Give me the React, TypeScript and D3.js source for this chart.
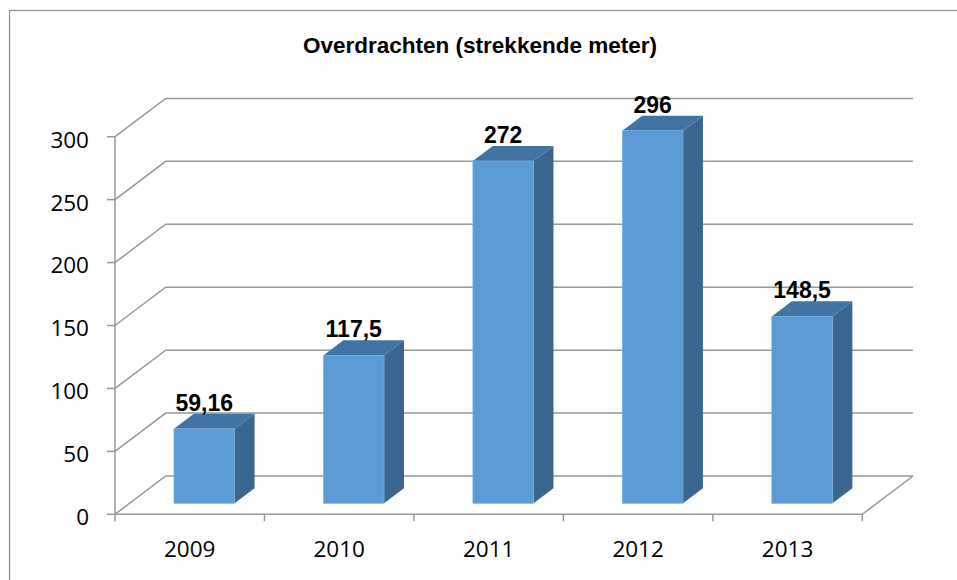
import * as d3 from 'd3';
import { useEffect, useRef } from 'react';

const years = ['2009', '2010', '2011', '2012', '2013'];
const values = [59.16, 117.5, 272, 296, 148.5];
const valueLabels = ['59,16', '117,5', '272', '296', '148,5'];
const yTicks = [0, 50, 100, 150, 200, 250, 300];
const title = 'Overdrachten (strekkende meter)';

const App = () => {
  const svgRef = useRef<SVGSVGElement>(null);

  useEffect(() => {
    const width = 957;
    const height = 580;
    const left = 115;
    const right = 862.3;
    const depthX = 50.7;
    const depthY = -38.3;
    const gridColor = '#979797';

    const svg = d3.select(svgRef.current);
    svg.selectAll('*').remove();
    svg.attr('width', width).attr('height', height);

    // chart border (runs off the right and bottom edges)
    svg.append('rect')
      .attr('x', 9.5).attr('y', 10.5)
      .attr('width', 960).attr('height', 600)
      .attr('fill', '#fff')
      .attr('stroke', '#8c8c8c')
      .attr('stroke-width', 1.2);

    const yScale = d3.scaleLinear([0, 300], [514.3, 136.7]);
    const xCat = d3.scaleBand(years, [left, right]).padding(0);
    const xBar = d3.scaleBand(years, [left, right]).paddingInner(0.594).paddingOuter(0.297);

    // back wall + side wall gridlines
    const grid = svg.append('g')
      .attr('fill', 'none')
      .attr('stroke', gridColor)
      .attr('stroke-width', 1.5);
    yTicks.forEach((t) => {
      const y = yScale(t);
      grid.append('path')
        .attr('d', `M ${left} ${y} L ${left + depthX} ${y + depthY} H ${right + depthX}`);
    });
    // floor
    grid.append('path')
      .attr('d', `M ${left} ${yScale(0)} H ${right} L ${right + depthX} ${yScale(0) + depthY}`);
    // y axis line
    grid.append('path')
      .attr('d', `M ${left} ${yScale(0)} V ${yScale(300)}`);

    // ticks
    yTicks.forEach((t) => {
      grid.append('path').attr('d', `M ${left - 8} ${yScale(t)} H ${left}`);
    });
    d3.range(years.length + 1).forEach((i) => {
      const x = left + i * xCat.step();
      grid.append('path').attr('d', `M ${x} ${yScale(0)} V ${yScale(0) + 7}`);
    });

    // y tick labels
    svg.append('g')
      .selectAll('text')
      .data(yTicks)
      .join('text')
      .attr('x', 89)
      .attr('y', (d) => yScale(d) + 3)
      .attr('dy', '0.35em')
      .attr('text-anchor', 'end')
      .attr('font-family', 'Open Sans')
      .attr('font-size', 22.5)
      .attr('fill', '#000')
      .text((d) => d);

    // category labels
    svg.append('g')
      .selectAll('text')
      .data(years)
      .join('text')
      .attr('x', (d) => xCat(d)! + xCat.bandwidth() / 2)
      .attr('y', 556.7)
      .attr('text-anchor', 'middle')
      .attr('font-family', 'Open Sans')
      .attr('font-size', 22.5)
      .attr('fill', '#000')
      .text((d) => d);

    // bars: front at ~29% depth, back at ~68%
    const f0 = 0.287;
    const f1 = 0.68;
    const bars = svg.append('g');
    years.forEach((yr, i) => {
      const x0 = xBar(yr)! + depthX * f0;
      const x1 = x0 + xBar.bandwidth();
      const yb = yScale(0) + depthY * f0;
      const yt = yScale(values[i]) + depthY * f0;
      const ox = depthX * (f1 - f0);
      const oy = depthY * (f1 - f0);
      // side
      bars.append('path')
        .attr('d', `M ${x1} ${yb} L ${x1 + ox} ${yb + oy} L ${x1 + ox} ${yt + oy} L ${x1} ${yt} Z`)
        .attr('fill', '#3a6690');
      // top
      bars.append('path')
        .attr('d', `M ${x0} ${yt} L ${x0 + ox} ${yt + oy} L ${x1 + ox} ${yt + oy} L ${x1} ${yt} Z`)
        .attr('fill', '#4274a3');
      // front
      bars.append('rect')
        .attr('x', x0).attr('y', yt)
        .attr('width', x1 - x0).attr('height', yb - yt)
        .attr('fill', '#5b9bd5')
        .attr('stroke', '#7eb1e0')
        .attr('stroke-width', 0.6);
      // value label
      bars.append('text')
        .attr('x', (x0 + x1) / 2)
        .attr('y', yt + oy - 3)
        .attr('text-anchor', 'middle')
        .attr('font-family', 'Liberation Sans, Arial, sans-serif')
        .attr('font-weight', 'bold')
        .attr('font-size', 23)
        .attr('fill', '#000')
        .text(valueLabels[i]);
    });

    // title
    svg.append('text')
      .attr('x', 480)
      .attr('y', 53)
      .attr('text-anchor', 'middle')
      .attr('font-family', 'Liberation Sans, Arial, sans-serif')
      .attr('font-weight', 'bold')
      .attr('font-size', 22.5)
      .attr('fill', '#000')
      .text(title);
  }, []);

  return (
    <svg ref={svgRef} style={{ position: 'absolute', left: 0, top: 0, display: 'block' }} />
  );
};

export default App;
